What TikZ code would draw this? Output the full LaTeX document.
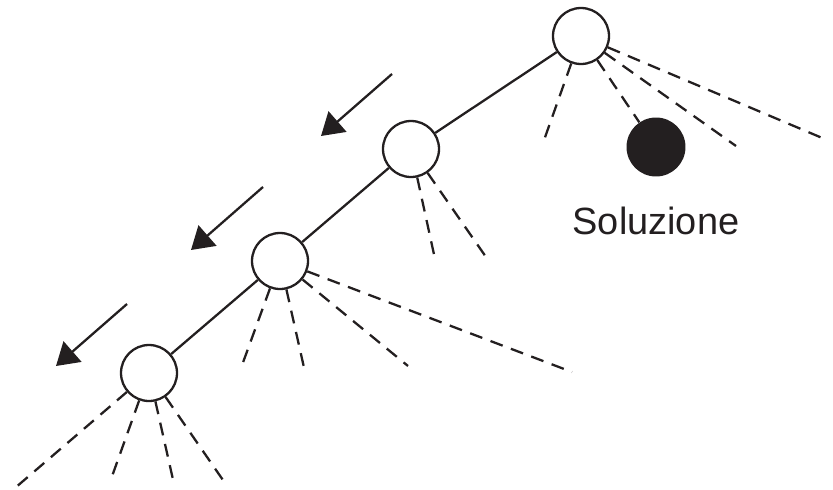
\documentclass[tikz,border=0pt]{standalone}
\usepackage{fontspec}
\setmainfont{Liberation Sans}
\usetikzlibrary{arrows.meta}
\definecolor{ink}{HTML}{231F20}
\tikzset{
  stato/.style={circle,draw=ink,fill=white,line width=1.3pt,minimum size=1.12cm,inner sep=0pt},
  soluz/.style={circle,fill=ink,minimum size=1.18cm,inner sep=0pt},
  ramo/.style={ink,line width=1.3pt,dash pattern=on 7.4pt off 5pt},
  arco/.style={ink,line width=1.3pt},
  verso/.style={ink,line width=1.3pt,-{Triangle[length=0.44cm,width=0.54cm]}}
}

\begin{document}
\begin{tikzpicture}[x=0.02cm,y=-0.02cm]
  \useasboundingbox (0,0) rectangle (833,490);
  % nodi lungo il cammino
  \node[stato] (n1) at (581,36) {};
  \node[stato] (n2) at (411,149) {};
  \node[stato] (n3) at (280,261) {};
  \node[stato] (n4) at (149,373) {};
  \node[soluz] (sol) at (656,147) {};
  \node[anchor=base,text=ink,font=\fontsize{21.6}{22}\selectfont] (lab) at (656,235) {Soluzione};

  % estremi dei rami non esplorati
  \coordinate (a1) at (543,143);
  \coordinate (a2) at (736,146);
  \coordinate (a3) at (827,140);
  \coordinate (b1) at (435,259);
  \coordinate (b2) at (486,257);
  \coordinate (c1) at (241,368);
  \coordinate (c2) at (305,372);
  \coordinate (c3) at (408,366);
  \coordinate (c4) at (572,372);
  \coordinate (d1) at (15,488);
  \coordinate (d2) at (110,482);
  \coordinate (d3) at (174,484);
  \coordinate (d4) at (225,483);

  \draw[arco] (n1) -- (n2) -- (n3) -- (n4);
  \draw[ramo] (n1) -- (sol);
  \foreach \t in {a1,a2,a3} \draw[ramo] (n1) -- (\t);
  \foreach \t in {b1,b2} \draw[ramo] (n2) -- (\t);
  \foreach \t in {c1,c2,c3,c4} \draw[ramo] (n3) -- (\t);
  \foreach \t in {d1,d2,d3,d4} \draw[ramo] (n4) -- (\t);

  % frecce della discesa
  \coordinate (p1) at (392,74);  \coordinate (q1) at (321,136);
  \coordinate (p2) at (263,187); \coordinate (q2) at (191,250);
  \coordinate (p3) at (127,304); \coordinate (q3) at (56,366);
  \foreach \i in {1,2,3} \draw[verso] (p\i) -- (q\i);
\end{tikzpicture}
\end{document}
